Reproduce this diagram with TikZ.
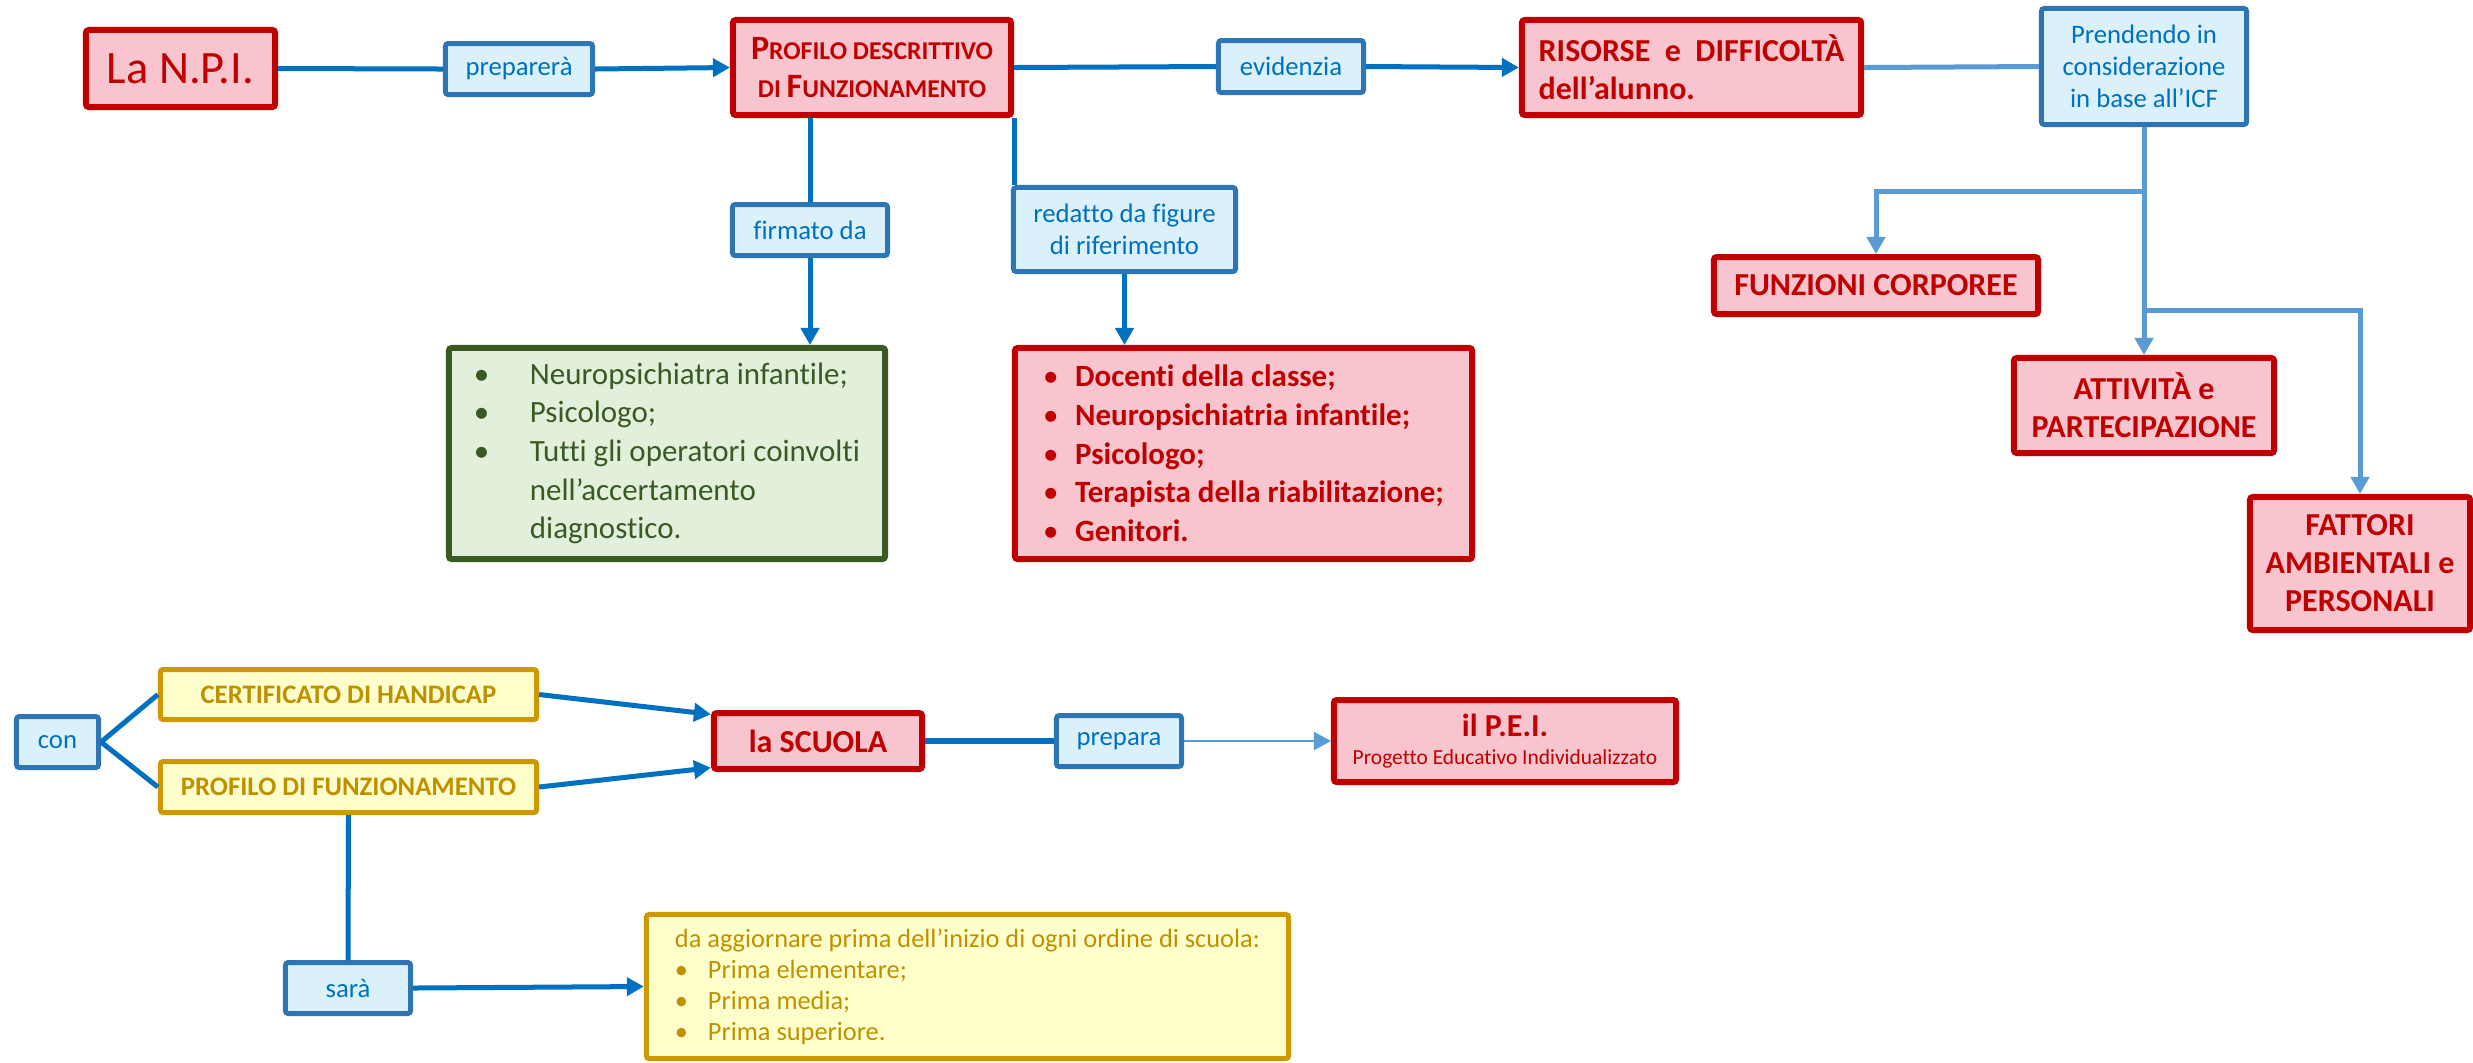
\documentclass[tikz,border=0pt]{standalone}
\usepackage{fontspec}
\setmainfont{Carlito}[Ligatures=NoCommon]
\usepackage{xcolor}
\usepackage{tikz}
\usetikzlibrary{arrows.meta}
\usetikzlibrary{calc}

\definecolor{rosso}{HTML}{C00000}
\definecolor{rosa}{HTML}{F8C4CD}
\definecolor{blu}{HTML}{0070C0}
\definecolor{bordoblu}{HTML}{2E75B6}
\definecolor{azzurro}{HTML}{DAF1FB}
\definecolor{celeste}{HTML}{5B9BD5}
\definecolor{verde}{HTML}{3A5A24}
\definecolor{verdino}{HTML}{E2EFDA}
\definecolor{oro}{HTML}{CC9900}
\definecolor{crema}{HTML}{FFFFCC}
\definecolor{testooro}{HTML}{BF9000}

\newcommand{\fs}[2]{\fontsize{#1}{#2}\selectfont}
\newcommand{\pcap}[1]{{\fs{9.7}{10.8}#1}}
\newcommand{\punto}[1]{\makebox[#1][l]{\mdseries\textbullet}}

\begin{document}
\begin{tikzpicture}[x=0.01cm, y=-0.01cm,
	misura/.style 2 args={minimum width=#1cm, minimum height=#2cm},
	rossobox/.style={draw=rosso, fill=rosa, line width=0.06cm, text=rosso, rounded corners=0.8pt, inner sep=0pt, align=center, font=\bfseries\fs{9.1}{10.8}},
	blubox/.style={draw=bordoblu, fill=azzurro, line width=0.05cm, text=blu, rounded corners=0.8pt, inner sep=0pt, align=center, font=\fs{7.6}{9.1}},
	verdebox/.style={draw=verde, fill=verdino, line width=0.06cm, text=verde, rounded corners=0.8pt, inner sep=0pt, align=left, font=\fs{8.8}{11}},
	orobox/.style={draw=oro, fill=crema, line width=0.05cm, text=testooro, rounded corners=0.8pt, inner sep=0pt, align=center, font=\bfseries\fs{7.6}{9}},
	linea/.style={draw=blu, line width=0.05cm},
	lineachiara/.style={draw=celeste, line width=0.05cm},
	freccia/.style={-{Triangle[length=0.17cm,width=0.18cm]}}]

	\path[use as bounding box, fill=white] (0,0) rectangle (2473,1062);

	\node[rossobox, misura={1.89}{0.77}, font=\fs{13.2}{14}] (npi) at (180.5,68.5) {La N.P.I.};
	\node[blubox, misura={1.47}{0.51}] (prep) at (519,69) {preparerà};
	\node[rossobox, misura={2.78}{0.95}, font=\bfseries\fs{7.3}{10.8}] (prof) at (872,67.5) {\pcap{P}ROFILO DESCRITTIVO\\DI \pcap{F}UNZIONAMENTO};
	\node[blubox, misura={1.45}{0.52}] (evid) at (1291,66.5) {evidenzia};
	\node[rossobox, misura={3.39}{0.95}, align=left] (ris) at (1691.5,67.5) {RISORSE\ \ e\ \ DIFFICOLTÀ\\dell’alunno.};
	\node[blubox, misura={2.05}{1.16}] (icf) at (2144,66.5) {Prendendo in\\considerazione\\in base all’ICF};

	\node[blubox, misura={1.55}{0.51}] (firm) at (810,230) {firmato da};
	\node[blubox, misura={2.22}{0.84}] (redatto) at (1124.5,229.5) {redatto da figure\\di riferimento};

	\node[verdebox, misura={4.36}{2.11}] (neuro) at (667,453.5) {\punto{0.56cm}Neuropsichiatra infantile;\\\punto{0.56cm}Psicologo;\\\punto{0.56cm}Tutti gli operatori coinvolti\\\hspace*{0.56cm}nell’accertamento\\\hspace*{0.56cm}diagnostico.};
	\node[rossobox, misura={4.57}{2.11}, align=left, font=\bfseries\fs{8.8}{11}] (docenti) at (1243.5,453.5) {\punto{0.32cm}Docenti della classe;\\\punto{0.32cm}Neuropsichiatria infantile;\\\punto{0.32cm}Psicologo;\\\punto{0.32cm}Terapista della riabilitazione;\\\punto{0.32cm}Genitori.};

	\node[rossobox, misura={3.24}{0.57}] (funz) at (1876,285.5) {FUNZIONI CORPOREE};
	\node[rossobox, misura={2.60}{0.95}] (att) at (2144,405.5) {ATTIVITÀ e\\PARTECIPAZIONE};
	\node[rossobox, misura={2.20}{1.33}] (fatt) at (2360,563.5) {FATTORI\\AMBIENTALI e\\PERSONALI};

	\node[blubox, misura={0.82}{0.51}] (con) at (57.5,742) {con};
	\node[orobox, misura={3.76}{0.50}] (cert) at (348.5,694.5) {CERTIFICATO DI HANDICAP};
	\node[orobox, misura={3.76}{0.51}] (pdf) at (348.5,787) {PROFILO DI FUNZIONAMENTO};
	\node[rossobox, misura={2.08}{0.56}] (scuola) at (818,741) {la SCUOLA};
	\node[blubox, misura={1.25}{0.51}] (prepara) at (1119,741) {prepara};
	\node[rossobox, misura={3.42}{0.82}] (pei) at (1505,741) {il P.E.I.\\[-3pt]{\mdseries\fs{6.1}{7}Progetto Educativo Individualizzato}};
	\node[blubox, misura={1.25}{0.51}] (sara) at (348,988) {sarà};
	\node[orobox, misura={6.42}{1.44}, align=left, font=\fs{7.5}{8.8}] (agg) at (967.5,986.5) {da aggiornare prima dell’inizio di ogni ordine di scuola:\\\punto{0.33cm}Prima elementare;\\\punto{0.33cm}Prima media;\\\punto{0.33cm}Prima superiore.};

	\draw[linea] (npi.east) -- (prep.west);
	\draw[linea, freccia] (prep.east) -- (prof.west);
	\draw[linea] (prof.east) -- (evid.west);
	\draw[linea, freccia] (evid.east) -- (ris.west);
	\draw[lineachiara] (ris.east) -- (icf.west);
	\draw[linea] (prof.south -| firm.north) -- (firm.north);
	\draw[linea, freccia] (firm.south) -- (firm.south |- neuro.north);
	\draw[linea] (prof.south east) -- (prof.south east |- redatto.north);
	\draw[linea, freccia] (redatto.south) -- (redatto.south |- docenti.north);

	\coordinate (b1) at (2144,191);
	\coordinate (b2) at (2144,310);
	\draw[lineachiara, freccia] (icf.south) -- (att.north);
	\draw[lineachiara, freccia] (b1) -| (funz.north);
	\draw[lineachiara, freccia] (b2) -| (fatt.north);

	\draw[linea] (con.east) -- (cert.west);
	\draw[linea] (con.east) -- (pdf.west);
	\draw[linea, freccia] (cert.east) -- (scuola.166);
	\draw[linea, freccia] (pdf.east) -- (scuola.194);
	\draw[linea, line width=0.06cm] (scuola.east) -- (prepara.west);
	\draw[lineachiara, line width=0.025cm, freccia] (prepara.east) -- (pei.west);
	\draw[linea] (pdf.south) -- (sara.north);
	\draw[linea, freccia] (sara.east) -- (agg.west);

\end{tikzpicture}
\end{document}
